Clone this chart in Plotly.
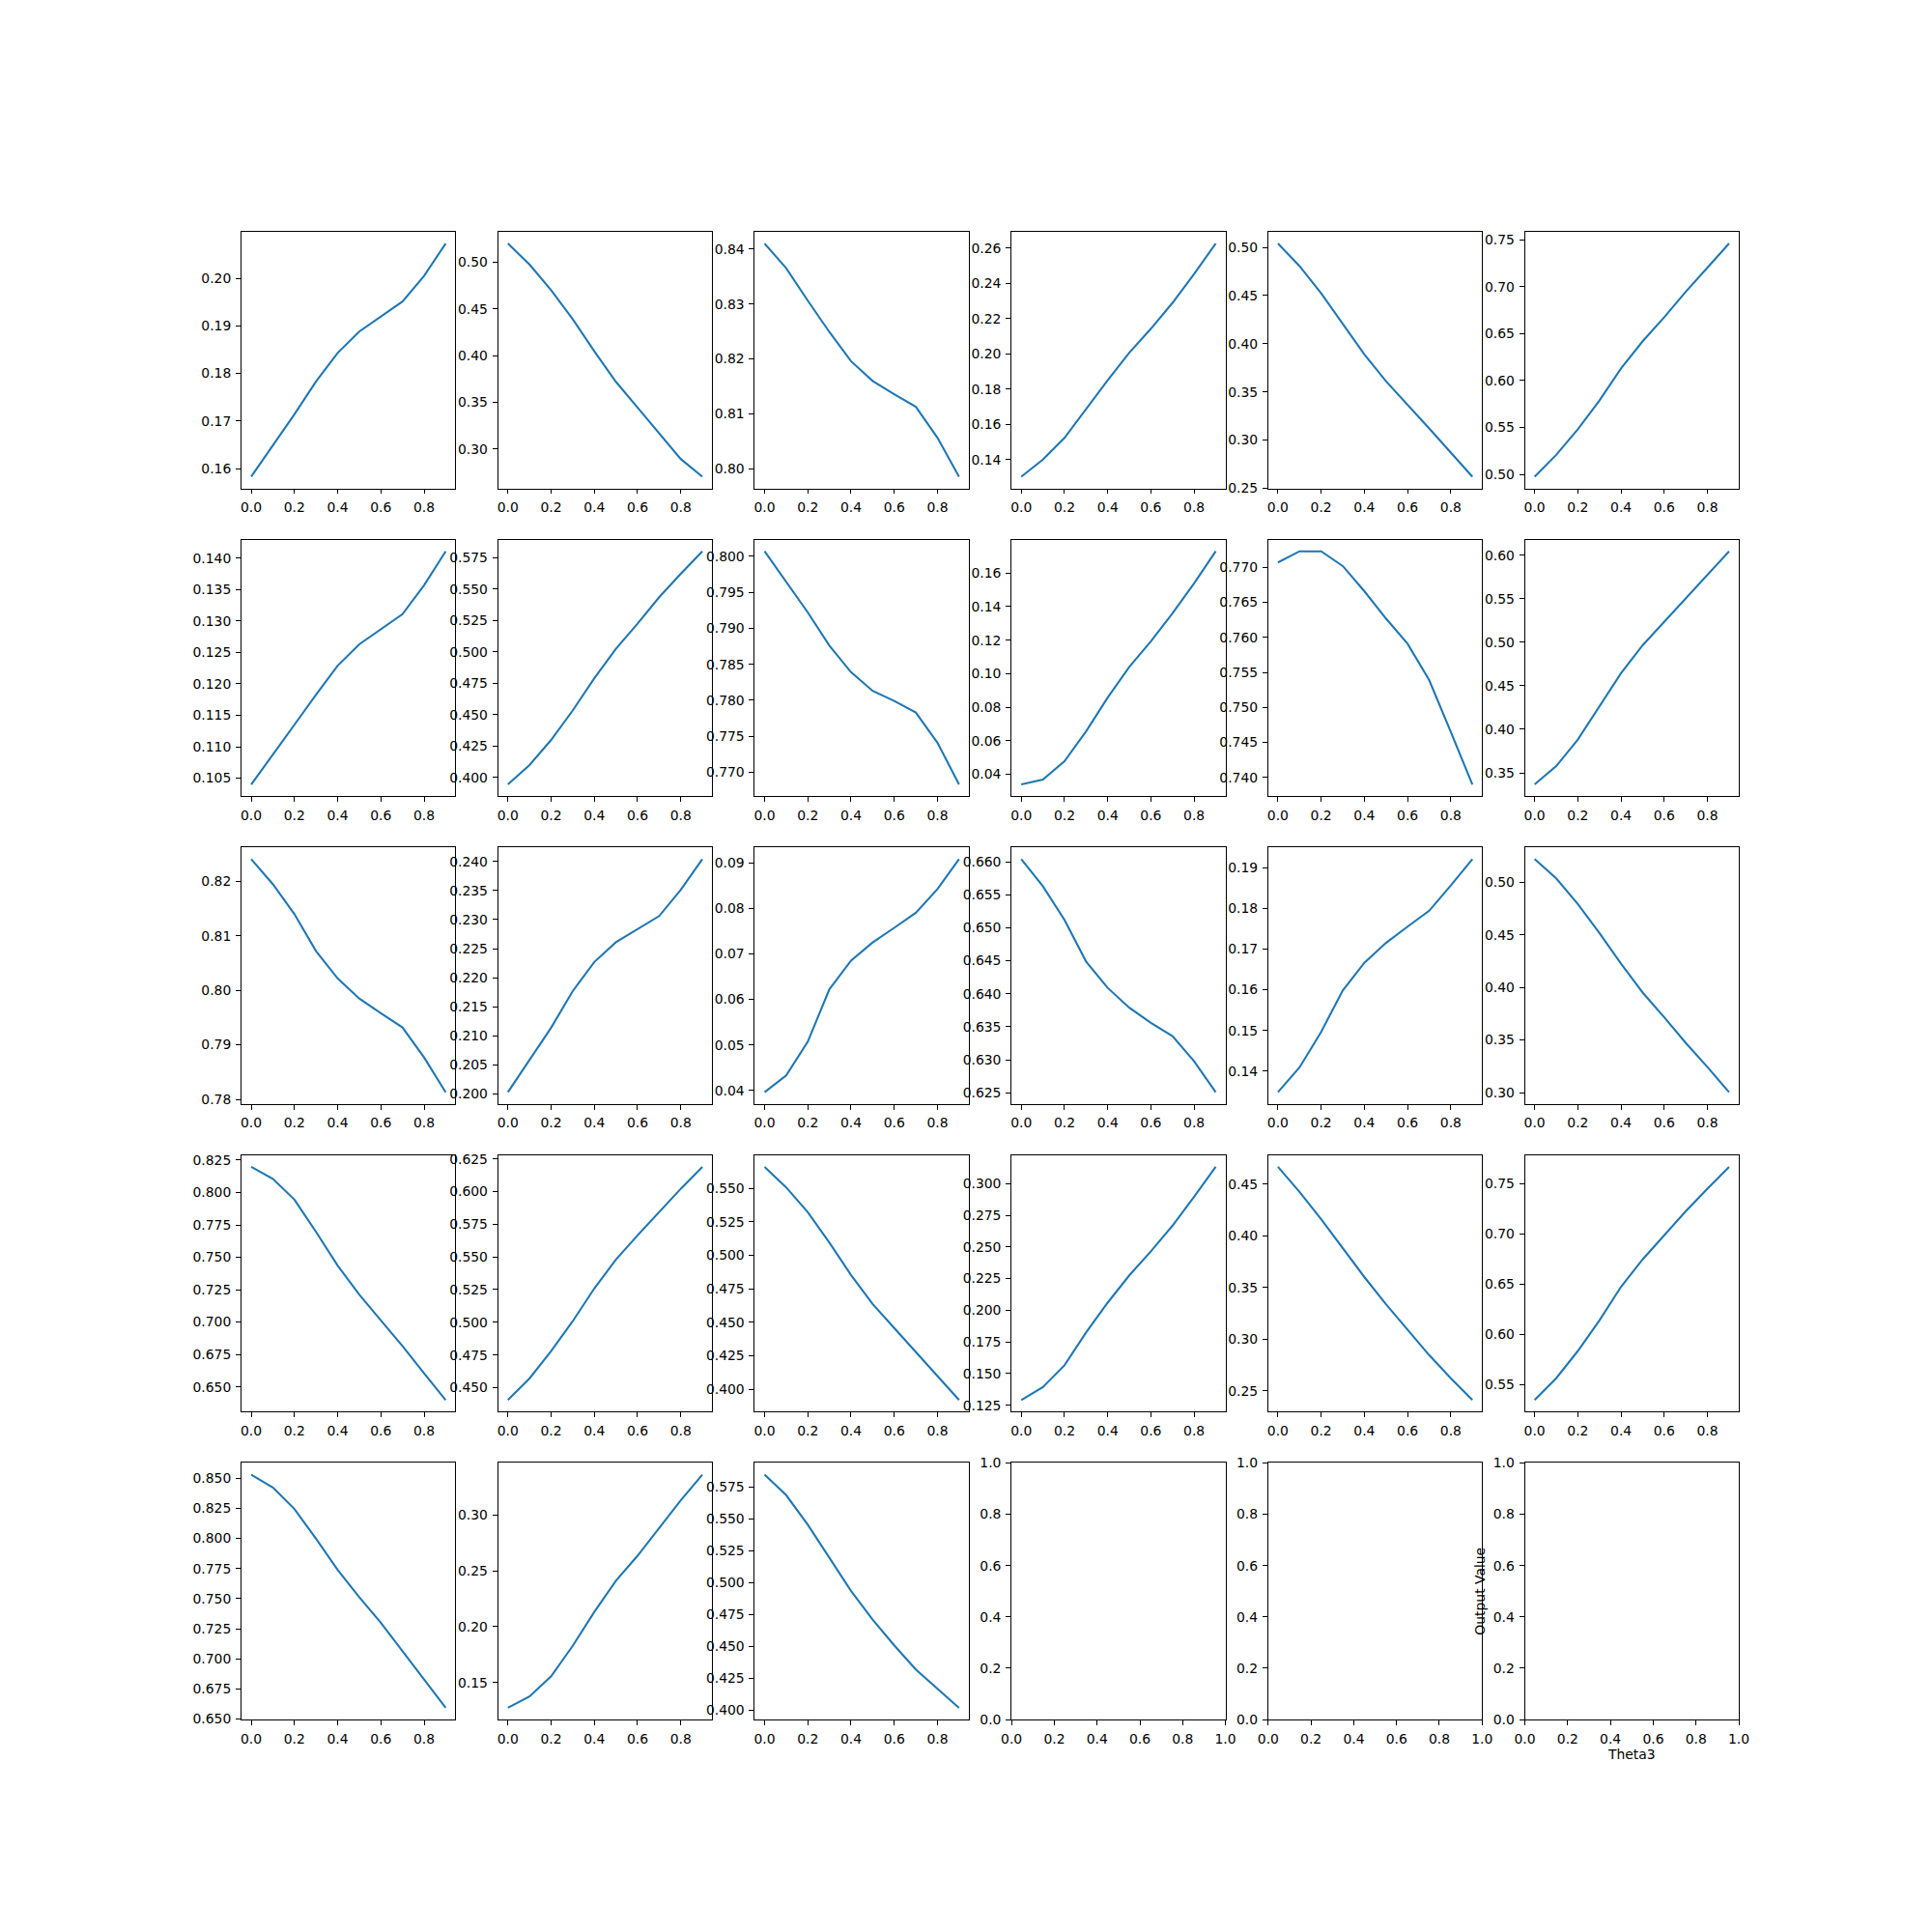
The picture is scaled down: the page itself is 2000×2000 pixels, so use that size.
import plotly.graph_objects as go

# ---------------- data ----------------
theta3 = [0.0, 0.1, 0.2, 0.3, 0.4, 0.5, 0.6, 0.7, 0.8, 0.9]

out_r1c1 = [0.1583, 0.1648, 0.1714, 0.1783, 0.1843, 0.1888, 0.1920, 0.1951, 0.2005, 0.2073]
out_r1c2 = [0.5200, 0.4976, 0.4700, 0.4390, 0.4047, 0.3720, 0.3445, 0.3170, 0.2894, 0.2705]
out_r1c3 = [0.8410, 0.8365, 0.8306, 0.8249, 0.8196, 0.8160, 0.8136, 0.8113, 0.8057, 0.7986]
out_r1c4 = [0.1303, 0.1400, 0.1523, 0.1687, 0.1851, 0.2007, 0.2143, 0.2290, 0.2454, 0.2627]
out_r1c5 = [0.5040, 0.4806, 0.4523, 0.4206, 0.3889, 0.3611, 0.3371, 0.3121, 0.2870, 0.2620]
out_r1c6 = [0.4975, 0.5207, 0.5480, 0.5787, 0.6128, 0.6418, 0.6674, 0.6947, 0.7203, 0.7459]

out_r2c1 = [0.1040, 0.1087, 0.1135, 0.1183, 0.1229, 0.1263, 0.1287, 0.1311, 0.1357, 0.1411]
out_r2c2 = [0.3944, 0.4098, 0.4298, 0.4533, 0.4790, 0.5025, 0.5225, 0.5435, 0.5622, 0.5801]
out_r2c3 = [0.8007, 0.7964, 0.7922, 0.7876, 0.7839, 0.7813, 0.7799, 0.7783, 0.7741, 0.7683]
out_r2c4 = [0.0339, 0.0368, 0.0477, 0.0656, 0.0857, 0.1040, 0.1193, 0.1360, 0.1539, 0.1730]
out_r2c5 = [0.7707, 0.7723, 0.7723, 0.7702, 0.7666, 0.7627, 0.7591, 0.7539, 0.7465, 0.7390]
out_r2c6 = [0.3367, 0.3577, 0.3883, 0.4258, 0.4645, 0.4965, 0.5234, 0.5510, 0.5775, 0.6044]

out_r3c1 = [0.8241, 0.8195, 0.8140, 0.8072, 0.8022, 0.7985, 0.7958, 0.7932, 0.7877, 0.7813]
out_r3c2 = [0.2003, 0.2059, 0.2114, 0.2177, 0.2227, 0.2261, 0.2283, 0.2306, 0.2351, 0.2404]
out_r3c3 = [0.0396, 0.0433, 0.0507, 0.0622, 0.0685, 0.0725, 0.0757, 0.0790, 0.0842, 0.0908]
out_r3c4 = [0.6604, 0.6563, 0.6512, 0.6449, 0.6409, 0.6379, 0.6356, 0.6336, 0.6298, 0.6251]
out_r3c5 = [0.1348, 0.1409, 0.1496, 0.1598, 0.1666, 0.1715, 0.1755, 0.1794, 0.1856, 0.1921]
out_r3c6 = [0.5220, 0.5037, 0.4792, 0.4517, 0.4226, 0.3951, 0.3716, 0.3471, 0.3242, 0.3003]

out_r4c1 = [0.8198, 0.8106, 0.7945, 0.7696, 0.7436, 0.7212, 0.7013, 0.6815, 0.6604, 0.6398]
out_r4c2 = [0.4405, 0.4570, 0.4779, 0.5008, 0.5259, 0.5480, 0.5665, 0.5844, 0.6021, 0.6189]
out_r4c3 = [0.5660, 0.5507, 0.5322, 0.5094, 0.4853, 0.4637, 0.4457, 0.4276, 0.4096, 0.3920]
out_r4c4 = [0.1291, 0.1393, 0.1565, 0.1824, 0.2060, 0.2275, 0.2465, 0.2668, 0.2896, 0.3132]
out_r4c5 = [0.4668, 0.4425, 0.4161, 0.3881, 0.3601, 0.3337, 0.3088, 0.2845, 0.2621, 0.2410]
out_r4c6 = [0.5347, 0.5564, 0.5835, 0.6139, 0.6474, 0.6746, 0.6986, 0.7225, 0.7449, 0.7666]

out_r5c1 = [0.8529, 0.8423, 0.8244, 0.7997, 0.7738, 0.7512, 0.7299, 0.7065, 0.6833, 0.6593]
out_r5c2 = [0.1273, 0.1374, 0.1555, 0.1828, 0.2131, 0.2410, 0.2634, 0.2879, 0.3130, 0.3360]
out_r5c3 = [0.5846, 0.5685, 0.5454, 0.5199, 0.4935, 0.4709, 0.4508, 0.4319, 0.4168, 0.4018]

panels = [
    out_r1c1, out_r1c2, out_r1c3, out_r1c4, out_r1c5, out_r1c6,
    out_r2c1, out_r2c2, out_r2c3, out_r2c4, out_r2c5, out_r2c6,
    out_r3c1, out_r3c2, out_r3c3, out_r3c4, out_r3c5, out_r3c6,
    out_r4c1, out_r4c2, out_r4c3, out_r4c4, out_r4c5, out_r4c6,
    out_r5c1, out_r5c2, out_r5c3,
]

# tick spacing / decimals of each panel's y tick labels
y_tick_steps = [
    0.01, 0.05, 0.01, 0.02, 0.05, 0.05,
    0.005, 0.025, 0.005, 0.02, 0.005, 0.05,
    0.01, 0.005, 0.01, 0.005, 0.01, 0.05,
    0.025, 0.025, 0.025, 0.025, 0.05, 0.05,
    0.025, 0.05, 0.025,
]
y_tick_decimals = [
    2, 2, 2, 2, 2, 2,
    3, 3, 3, 2, 3, 2,
    2, 3, 2, 3, 2, 2,
    3, 3, 3, 3, 2, 2,
    3, 2, 3,
]

x_label = "Theta3"
y_label = "Output Value"

# ---------------- layout ----------------
NROWS, NCOLS = 5, 6
LEFT, RIGHT, BOTTOM, TOP = 0.125, 0.9, 0.11, 0.88
WSPACE = HSPACE = 0.2
w = (RIGHT - LEFT) / (NCOLS + WSPACE * (NCOLS - 1))
h = (TOP - BOTTOM) / (NROWS + HSPACE * (NROWS - 1))

FONT = dict(family="DejaVu Sans", size=13.9, color="black")
LINE_COLOR = "#1f77b4"

fig = go.Figure()
layout = {}

for k in range(NROWS * NCOLS):
    r, c = divmod(k, NCOLS)
    x0 = LEFT + c * w * (1 + WSPACE)
    y1 = TOP - r * h * (1 + HSPACE)
    suffix = "" if k == 0 else str(k + 1)
    xname, yname = "xaxis" + suffix, "yaxis" + suffix
    xref, yref = "x" + suffix, "y" + suffix

    common = dict(
        showline=True, mirror=True, linecolor="black", linewidth=1.1,
        ticks="outside", ticklen=4.9, tickwidth=1.1, tickcolor="black",
        showgrid=False, zeroline=False, tickfont=FONT,
        ticklabelstandoff=2, automargin=False,
    )
    xa = dict(common, domain=[x0, x0 + w], anchor=yref, tick0=0, dtick=0.2,
              tickformat=".1f")
    ya = dict(common, domain=[y1 - h, y1], anchor=xref)

    if k < len(panels):
        vals = panels[k]
        lo, hi = min(vals), max(vals)
        pad = 0.05 * (hi - lo)
        xa["range"] = [-0.045, 0.945]
        ya["range"] = [lo - pad, hi + pad]
        ya["tick0"] = 0
        ya["dtick"] = y_tick_steps[k]
        ya["tickformat"] = ".%df" % y_tick_decimals[k]
        fig.add_trace(go.Scatter(
            x=theta3, y=vals, mode="lines",
            line=dict(color=LINE_COLOR, width=2.08),
            xaxis=xref, yaxis=yref, showlegend=False, hoverinfo="skip",
        ))
    else:
        xa["range"] = [0, 1]
        ya["range"] = [0, 1]
        ya["tick0"] = 0
        ya["dtick"] = 0.2
        ya["tickformat"] = ".1f"
        fig.add_trace(go.Scatter(
            x=[], y=[], mode="lines", xaxis=xref, yaxis=yref,
            showlegend=False, hoverinfo="skip",
        ))
        if k == NROWS * NCOLS - 1:
            xa["title"] = dict(text=x_label, font=FONT, standoff=4)
            ya["title"] = dict(text=y_label, font=FONT, standoff=4)

    layout[xname] = xa
    layout[yname] = ya

fig.update_layout(
    width=2000, height=2000,
    margin=dict(l=0, r=0, t=0, b=0, autoexpand=False),
    paper_bgcolor="white", plot_bgcolor="white",
    showlegend=False,
    **layout,
)

fig.write_html(
    "out.html",
    config={"displayModeBar": False},
    post_script="document.body.style.margin='0px';",
)
